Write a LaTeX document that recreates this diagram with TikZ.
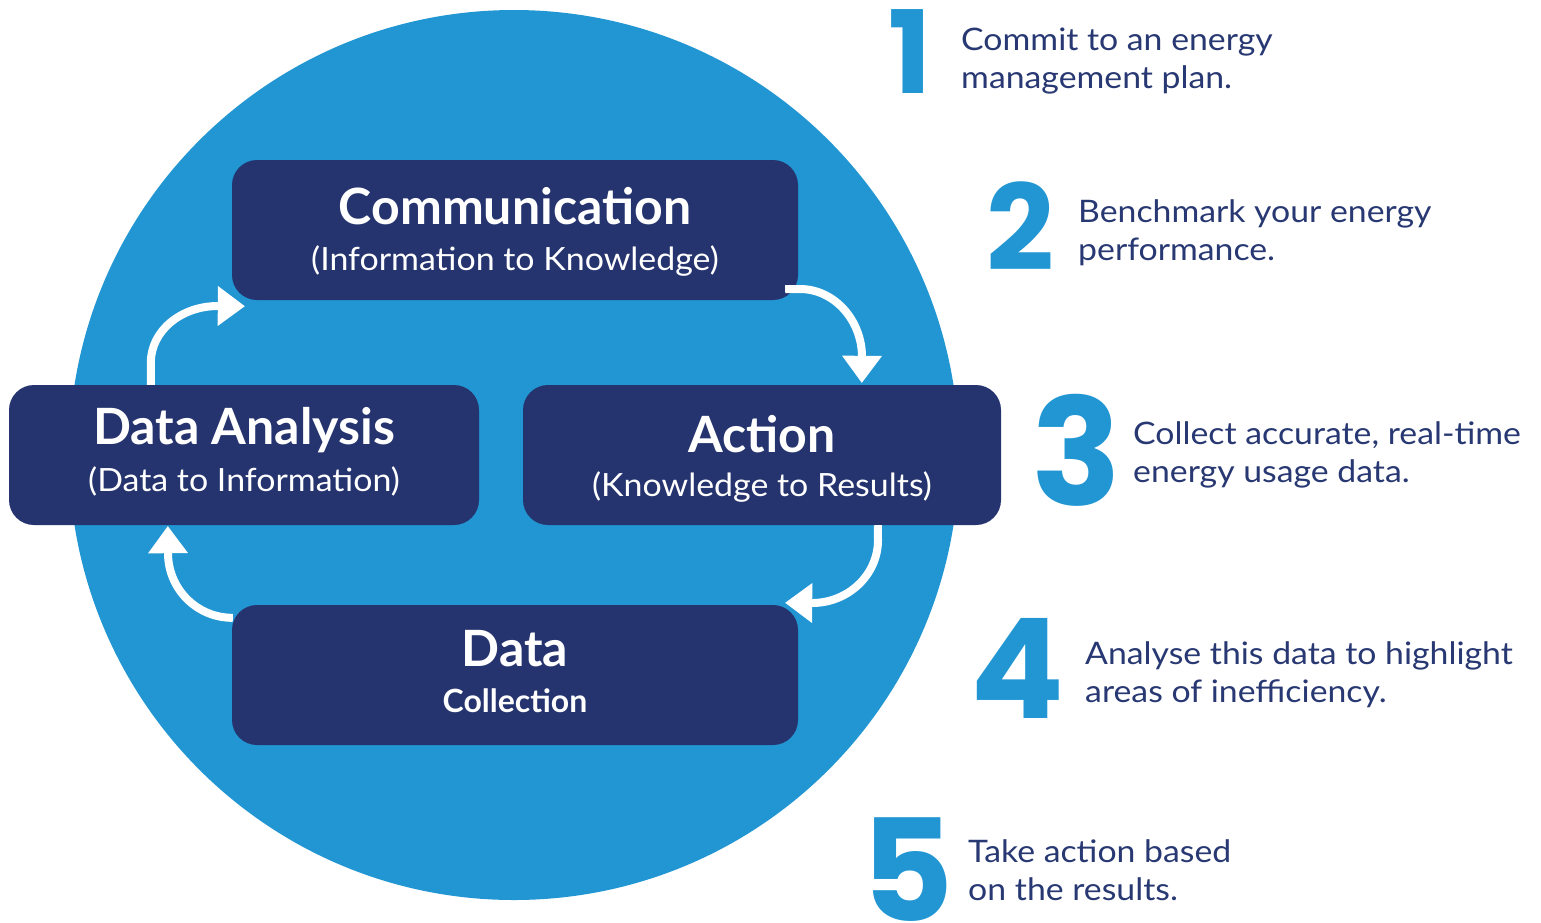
\documentclass[tikz,border=0pt]{standalone}
\usepackage{fontspec}
\setmainfont{Lato}
\newfontfamily\numfont{Poppins}
\newfontfamily\stepfont{Lato}[FakeStretch=1.09]
\newfontfamily\subfont{Lato}[FakeStretch=1.06]
\usetikzlibrary{arrows.meta,calc}
\definecolor{cblue}{RGB}{33,150,211}
\definecolor{navy}{RGB}{37,52,110}
\definecolor{tnavy}{RGB}{40,56,114}
\begin{document}
\begin{tikzpicture}[x=1pt,y=-1pt,
  stagebox/.style={fill=navy, rounded corners=25pt, inner sep=0pt, draw=none},
  ttl/.style={text=white, font=\fontsize{50}{60}\selectfont\bfseries, anchor=base, inner sep=0pt},
  sub/.style={text=white, font=\subfont\fontsize{32}{38}\selectfont, anchor=base, inner sep=0pt},
  subb/.style={text=white, font=\fontsize{32}{38}\selectfont\bfseries, anchor=base, inner sep=0pt},
  cyc/.style={draw=white, line width=8pt, -{Triangle[width=40pt 0, length=27pt 0, line width=0pt]}},
  num/.style={text=cblue, anchor=base, inner sep=0pt},
  steptext/.style={text=tnavy, font=\stepfont\fontsize{31}{38}\selectfont, anchor=base west, inner sep=0pt}
]
\useasboundingbox (0,0) rectangle (1541,922);
\fill[cblue] (514,455) circle[radius=445];

\node[stagebox, minimum width=566pt, minimum height=140pt] (com) at (515,230) {};
\node[stagebox, minimum width=470pt, minimum height=140pt] (da) at (244,455) {};
\node[stagebox, minimum width=478pt, minimum height=140pt] (act) at (762,455) {};
\node[stagebox, minimum width=566pt, minimum height=140pt] (dc) at (515,675) {};

\node[ttl] (comt) at ($(com.center)+(0,-6)$) {Communication};
\node[sub] (coms) at ($(com.center)+(0,40)$) {(Information to Knowledge)};
\node[ttl] (dat) at ($(da.center)+(0,-11)$) {Data Analysis};
\node[sub] (das) at ($(da.center)+(0,36)$) {(Data to Information)};
\node[ttl] (actt) at ($(act.center)+(0,-3)$) {Action};
\node[sub] (acts) at ($(act.center)+(0,41)$) {(Knowledge to Results)};
\node[ttl] (dct) at ($(dc.center)+(0,-9)$) {Data};
\node[subb] (dcs) at ($(dc.center)+(0,37)$) {Collection};

\draw[cyc] ($(da.north west)+(142,0)$) -- ++(0,-22) .. controls +(0,-32) and (181,306) .. (218,306) -- ($(com.south west)+(13,6)$);
\draw[cyc] ($(com.south east)+(-13,-11)$) -- (800,289) .. controls (834,289) and (862,320) .. (862,357) -- ($(act.north west)+(339,-2)$);
\draw[cyc] ($(act.south west)+(355,0)$) -- (878,540) .. controls (878,575) and (848,603) .. (812,603) -- ($(dc.north east)+(-13,-2)$);
\draw[cyc] ($(dc.north west)+(1,13)$) .. controls (197,618) and (168,589) .. (168,553) -- ($(da.south west)+(159,1)$);

\node[num, font=\numfont\bfseries\fontsize{115}{115}\selectfont] (n1) at (910,93) {1};
\node[num, font=\numfont\bfseries\fontsize{119}{119}\selectfont] (n2) at (1020,270) {2};
\node[num, font=\numfont\bfseries\fontsize{149}{149}\selectfont] (n3) at (1077,505) {3};
\node[num, font=\numfont\bfseries\fontsize{139}{139}\selectfont] (n4) at (1018,718) {4};
\node[num, font=\numfont\bfseries\fontsize{142}{142}\selectfont] (n5) at (908,921) {5};

\node[steptext] (t1a) at (961,50) {Commit to an energy};
\node[steptext] (t1b) at (961,88) {management plan.};
\node[steptext] (t2a) at (1078,222) {Benchmark your energy};
\node[steptext] (t2b) at (1078,260) {performance.};
\node[steptext] (t3a) at (1133,444) {Collect accurate, real-time};
\node[steptext] (t3b) at (1133,482) {energy usage data.};
\node[steptext] (t4a) at (1085,664) {Analyse this data to highlight};
\node[steptext] (t4b) at (1085,702) {areas of inefficiency.};
\node[steptext] (t5a) at (968,862) {Take action based};
\node[steptext] (t5b) at (968,900) {on the results.};
\end{tikzpicture}
\end{document}
